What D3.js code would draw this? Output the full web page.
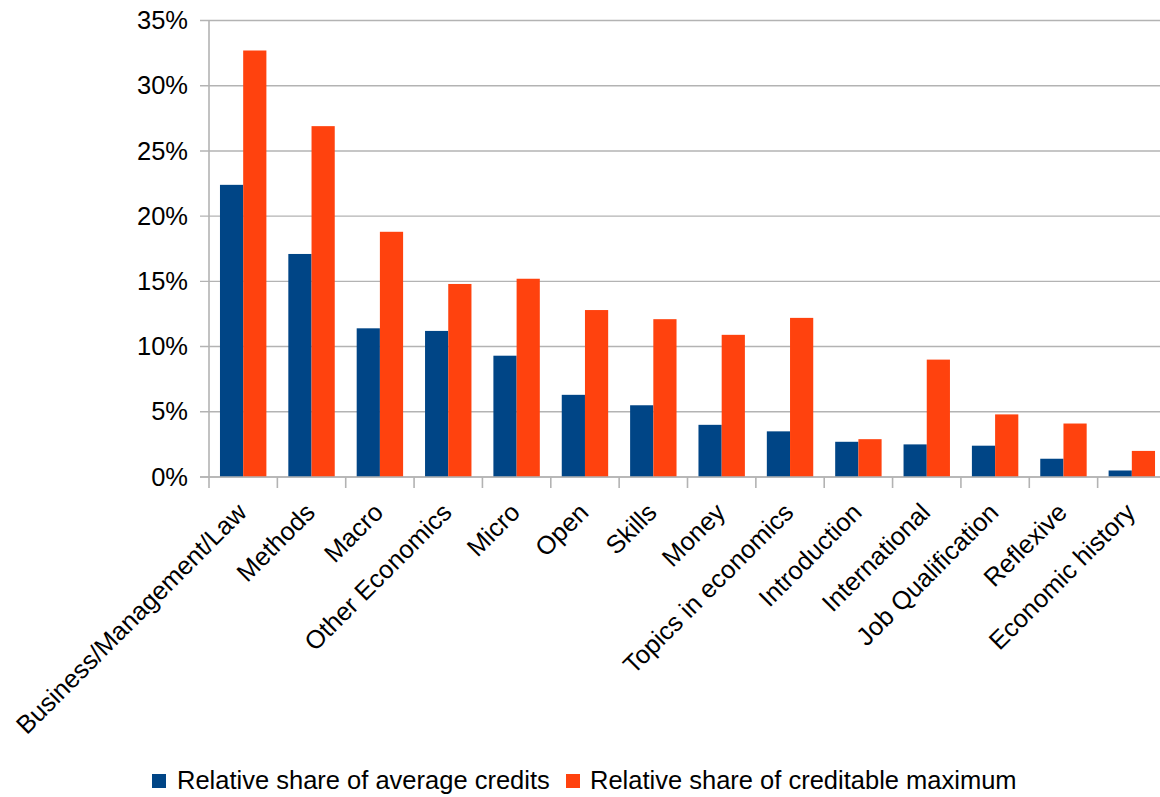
<!DOCTYPE html>
<html>
<head>
<meta charset="utf-8">
<script src="https://cdn.jsdelivr.net/npm/d3@7"></script>
<style>
  html, body { margin: 0; padding: 0; background: #fff; }
  svg { display: block; }
  text { font-family: "Liberation Sans", Arial, sans-serif; fill: #000; }
</style>
</head>
<body>
<svg id="chart" width="1160" height="797"></svg>
<script>
// Course areas (x categories)
const categories = [
  "Business/Management/Law", "Methods", "Macro", "Other Economics", "Micro",
  "Open", "Skills", "Money", "Topics in economics", "Introduction",
  "International", "Job Qualification", "Reflexive", "Economic history"
];
// Series values, in percent
const averageCredits = [22.4, 17.1, 11.4, 11.2, 9.3, 6.3, 5.5, 4.0, 3.5, 2.7, 2.5, 2.4, 1.4, 0.5];
const creditableMaximum = [32.7, 26.9, 18.8, 14.8, 15.2, 12.8, 12.1, 10.9, 12.2, 2.9, 9.0, 4.8, 4.1, 2.0];
const seriesNames = ["Relative share of average credits", "Relative share of creditable maximum"];
const yTicks = [0, 5, 10, 15, 20, 25, 30, 35];

const colors = ["#004586", "#ff420e"];
const gridColor = "#b3b3b3";
const fontSize = 25.5;

const svg = d3.select("#chart");
const plot = { left: 209, right: 1166, top: 20.5, bottom: 477 };

const x = d3.scaleBand()
  .domain(categories)
  .range([plot.left, plot.right])
  .paddingInner(0.321)
  .paddingOuter(0.1605);

const xSub = d3.scaleBand()
  .domain([0, 1])
  .range([0, x.bandwidth()]);

const y = d3.scaleLinear()
  .domain([0, 35])
  .range([plot.bottom, plot.top]);

// Horizontal gridlines
svg.append("g")
  .selectAll("line")
  .data(yTicks)
  .join("line")
  .attr("x1", plot.left - 9)
  .attr("x2", 1160)
  .attr("y1", d => y(d))
  .attr("y2", d => y(d))
  .attr("stroke", gridColor)
  .attr("stroke-width", 1.4);

// Y axis labels
const yAxis = d3.axisLeft(y)
  .tickValues(yTicks)
  .tickFormat(d => d + "%")
  .tickSize(0)
  .tickPadding(21);
const gy = svg.append("g")
  .attr("transform", `translate(${plot.left},0)`)
  .call(yAxis);
gy.select(".domain").remove();
gy.selectAll("text")
  .attr("font-size", fontSize)
  .attr("font-family", "Liberation Sans, Arial, sans-serif")
  .attr("fill", "#000");

// Bars
const rows = categories.map((c, i) => ({ cat: c, vals: [averageCredits[i], creditableMaximum[i]] }));
const groups = svg.append("g")
  .selectAll("g")
  .data(rows)
  .join("g")
  .attr("transform", d => `translate(${x(d.cat)},0)`);
groups.selectAll("rect")
  .data(d => d.vals.map((v, s) => ({ v, s })))
  .join("rect")
  .attr("x", d => xSub(d.s))
  .attr("width", xSub.bandwidth())
  .attr("y", d => y(d.v))
  .attr("height", d => y(0) - y(d.v))
  .attr("fill", d => colors[d.s]);

// Y axis line and X axis line with category boundary ticks
svg.append("line")
  .attr("x1", plot.left).attr("x2", plot.left)
  .attr("y1", plot.top).attr("y2", plot.bottom + 11)
  .attr("stroke", gridColor).attr("stroke-width", 1.6);
svg.append("line")
  .attr("x1", plot.left - 9).attr("x2", 1160)
  .attr("y1", plot.bottom).attr("y2", plot.bottom)
  .attr("stroke", gridColor).attr("stroke-width", 1.6);
const step = x.step();
svg.append("g")
  .selectAll("line")
  .data(d3.range(1, categories.length + 1))
  .join("line")
  .attr("x1", i => plot.left + i * step)
  .attr("x2", i => plot.left + i * step)
  .attr("y1", plot.bottom)
  .attr("y2", plot.bottom + 11)
  .attr("stroke", gridColor).attr("stroke-width", 1.6);

// Rotated category labels
svg.append("g")
  .selectAll("text")
  .data(categories)
  .join("text")
  .attr("transform", d => `translate(${x(d) + x.bandwidth() / 2 + 5},514) rotate(-45)`)
  .attr("text-anchor", "end")
  .attr("font-size", fontSize)
  .text(d => d);

// Legend
const legendItems = [
  { name: seriesNames[0], color: colors[0], sx: 152, tx: 177 },
  { name: seriesNames[1], color: colors[1], sx: 566, tx: 590 }
];
const legend = svg.append("g");
legend.selectAll("rect")
  .data(legendItems)
  .join("rect")
  .attr("x", d => d.sx)
  .attr("y", 774)
  .attr("width", 14)
  .attr("height", 14)
  .attr("fill", d => d.color);
legend.selectAll("text")
  .data(legendItems)
  .join("text")
  .attr("x", d => d.tx)
  .attr("y", 789)
  .attr("font-size", fontSize)
  .text(d => d.name);
</script>
</body>
</html>
